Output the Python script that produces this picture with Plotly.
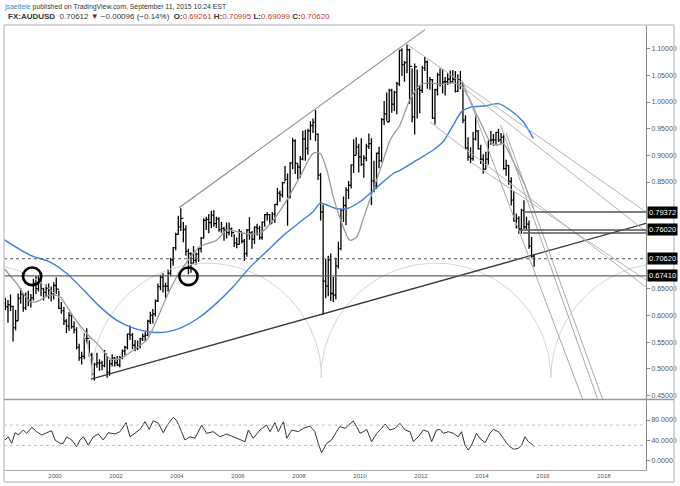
import numpy as np
import plotly.graph_objects as go
from plotly.subplots import make_subplots

# ---------------- data ----------------
FIRST_YEAR = 1998
FIRST_MONTH = 4  # May (0-based month index)
open_first = 0.623

high = [
    .633, .629, .639, .618, .610, .641, .651, .641,
    .643, .646, .640, .668, .674, .675, .668, .652, .658, .660, .654, .662,
    .671, .646, .625, .616, .593, .606, .604, .589, .578, .547, .532, .566,
    .576, .553, .530, .511, .530, .518, .515, .535, .524, .517, .527, .522,
    .524, .524, .536, .543, .566, .581, .567, .554, .553, .558, .566, .569,
    .592, .607, .612, .630, .660, .676, .679, .661, .687, .708, .728, .755,
    .787, .801, .775, .769, .725, .718, .730, .718, .727, .747, .782, .785,
    .790, .796, .797, .785, .784, .775, .766, .774, .774, .765, .752, .746,
    .762, .756, .743, .762, .784, .758, .767, .772, .768, .776, .790, .794,
    .790, .794, .809, .839, .834, .850, .880, .866, .887, .933, .930, .885,
    .899, .946, .948, .950, .964, .969, .985, .941, .867, .807, .706, .712,
    .716, .672, .708, .738, .800, .823, .840, .852, .883, .930, .934, .922,
    .932, .900, .922, .941, .932, .890, .905, .916, .970, 1.002, 1.018, 1.025,
    1.025, 1.021, 1.038, 1.098, 1.101, 1.077, 1.108, 1.100, 1.063, 1.072, 1.061, 1.031,
    1.068, 1.085, 1.078, 1.047, 1.043, 1.025, 1.055, 1.063, 1.062, 1.047, 1.054, 1.059,
    1.060, 1.058, 1.052, 1.058, 1.036, .975, .934, .915, .944, .976, .947, .920,
    .902, .907, .928, .946, .940, .944, .950, .942, .939, .892, .882, .859,
    .833, .791, .786, .800, .816, .785, .778, .747, .715,
]
low = [
    .610, .586, .608, .551, .572, .590, .622, .607,
    .610, .617, .615, .628, .640, .645, .636, .628, .636, .631, .626, .630,
    .640, .612, .603, .582, .567, .571, .575, .566, .536, .515, .508, .518,
    .546, .522, .487, .478, .502, .496, .497, .503, .483, .487, .504, .504,
    .505, .503, .518, .525, .536, .554, .537, .533, .535, .538, .552, .552,
    .561, .584, .585, .598, .625, .647, .643, .633, .645, .675, .693, .722,
    .751, .758, .737, .712, .677, .680, .696, .695, .700, .718, .744, .760,
    .754, .764, .766, .764, .757, .755, .740, .744, .750, .747, .728, .726,
    .733, .735, .702, .710, .742, .725, .734, .750, .742, .742, .766, .778,
    .770, .774, .773, .806, .813, .821, .851, .768, .819, .874, .865, .855,
    .858, .891, .890, .901, .929, .942, .927, .854, .778, .601, .632, .636,
    .627, .625, .630, .688, .722, .775, .769, .818, .838, .867, .900, .868,
    .880, .858, .889, .912, .807, .831, .837, .876, .887, .957, .965, .962,
    .980, .983, .977, 1.030, 1.049, 1.038, 1.054, .997, .962, .939, .969, .979,
    1.017, 1.058, 1.025, 1.023, .968, .958, 1.012, 1.029, 1.016, 1.012, 1.032, 1.034,
    1.036, 1.018, 1.019, 1.024, .960, .911, .890, .885, .890, .928, .911, .884,
    .866, .874, .883, .920, .918, .920, .925, .921, .873, .862, .845, .806,
    .776, .763, .753, .753, .762, .761, .725, .708, .691,
]
close = [
    .616, .620, .617, .577, .590, .632, .640, .614,
    .632, .628, .633, .660, .650, .668, .650, .643, .651, .648, .640, .656,
    .649, .613, .609, .589, .580, .600, .579, .573, .540, .521, .523, .557,
    .557, .526, .490, .508, .511, .511, .506, .528, .493, .509, .520, .511,
    .507, .521, .533, .540, .565, .563, .544, .538, .542, .556, .561, .563,
    .589, .600, .603, .627, .654, .672, .655, .655, .679, .704, .727, .752,
    .766, .782, .761, .720, .716, .698, .703, .715, .725, .745, .778, .780,
    .774, .788, .772, .781, .761, .763, .760, .755, .762, .755, .736, .733,
    .757, .739, .716, .760, .755, .743, .765, .763, .746, .775, .789, .789,
    .772, .790, .808, .829, .826, .849, .855, .822, .886, .927, .885, .878,
    .893, .931, .913, .946, .956, .962, .940, .863, .794, .664, .655, .704,
    .641, .638, .693, .725, .798, .806, .835, .844, .882, .900, .916, .897,
    .883, .895, .917, .922, .852, .843, .904, .890, .967, .978, .963, 1.022,
    .996, 1.018, 1.034, 1.097, 1.070, 1.074, 1.098, 1.067, .972, 1.066, 1.025, 1.022,
    1.064, 1.075, 1.035, 1.042, .970, 1.023, 1.051, 1.033, 1.038, 1.038, 1.043, 1.038,
    1.043, 1.020, 1.042, 1.036, .966, .914, .897, .894, .931, .946, .912, .893,
    .874, .893, .927, .929, .929, .943, .929, .934, .875, .881, .851, .816,
    .777, .782, .762, .797, .766, .771, .730, .711, .706,
]

gray_ma_year = [1998.33, 1998.74, 1999.18, 1999.40, 1999.84, 2000.16, 2000.60, 2001.04, 2001.48,
                2001.80, 2002.13, 2002.57, 2003.01, 2003.33, 2003.66, 2003.99, 2004.32, 2004.75,
                2005.30, 2005.63, 2006.17, 2006.72, 2007.16, 2007.60, 2008.03, 2008.47, 2008.69,
                2008.91, 2009.12, 2009.45, 2009.67, 2009.89, 2010.10, 2010.40, 2010.70, 2011.00,
                2011.31, 2011.64, 2011.97, 2012.30, 2012.65, 2013.00, 2013.28, 2013.55, 2013.80,
                2014.05, 2014.26, 2014.48, 2014.70, 2015.03, 2015.36, 2015.50, 2015.69]
gray_ma = [.688, .660, .626, .626, .638, .635, .597, .566, .541,
           .519, .519, .535, .554, .591, .635, .672, .700, .729,
           .741, .760, .754, .754, .779, .816, .860, .904, .904,
           .873, .823, .766, .741, .747, .780, .830, .880, .930,
           .957, 1.005, 1.032, 1.036, 1.033, 1.036, 1.032, 1.010, .980,
           .950, .926, .919, .922, .888, .850, .830, .800]

blue_ma_year = [1998.33, 1999.18, 1999.84, 2000.38, 2000.93, 2001.48, 2002.02, 2002.57, 2003.11,
                2003.66, 2004.21, 2004.75, 2005.30, 2005.85, 2006.39, 2006.94, 2007.49, 2008.03,
                2008.47, 2008.69, 2009.24, 2009.56, 2010.00, 2010.55, 2011.09, 2011.31, 2011.86,
                2012.40, 2012.73, 2013.06, 2013.33, 2013.61, 2014.15, 2014.53, 2014.92, 2015.35,
                2015.68]
blue_ma = [.742, .713, .700, .679, .648, .616, .591, .576, .569,
           .569, .579, .597, .623, .654, .690, .720, .750, .775,
           .795, .810, .800, .800, .813, .840, .866, .872, .891,
           .910, .926, .957, .982, .990, .993, .997, .985, .963,
           .932]

rsi_year = [1998.36, 1998.47, 1998.58, 1998.69, 1998.80, 1998.96, 1999.07, 1999.24, 1999.40, 1999.56,
            1999.73, 1999.89, 2000.00, 2000.17, 2000.27, 2000.38, 2000.55, 2000.71, 2000.82, 2000.93,
            2001.09, 2001.26, 2001.42, 2001.58, 2001.75, 2001.97, 2002.13, 2002.33, 2002.46, 2002.62,
            2002.79, 2002.95, 2003.09, 2003.22, 2003.39, 2003.55, 2003.72, 2003.88, 2003.99, 2004.15,
            2004.26, 2004.43, 2004.59, 2004.81, 2004.97, 2005.19, 2005.41, 2005.63, 2005.85, 2006.07,
            2006.23, 2006.34, 2006.50, 2006.72, 2006.94, 2007.05, 2007.21, 2007.32, 2007.49, 2007.60,
            2007.76, 2007.98, 2008.14, 2008.36, 2008.52, 2008.63, 2008.74, 2008.91, 2009.07, 2009.23,
            2009.34, 2009.51, 2009.62, 2009.78, 2009.89, 2010.00, 2010.11, 2010.22, 2010.38, 2010.55,
            2010.71, 2010.82, 2010.98, 2011.15, 2011.31, 2011.48, 2011.64, 2011.75, 2011.91, 2012.08,
            2012.24, 2012.35, 2012.51, 2012.62, 2012.73, 2012.90, 2013.06, 2013.22, 2013.33, 2013.44,
            2013.55, 2013.66, 2013.82, 2013.93, 2014.10, 2014.26, 2014.37, 2014.54, 2014.70, 2014.81,
            2014.92, 2015.03, 2015.19, 2015.30, 2015.41, 2015.52, 2015.63, 2015.72]
rsi = [40.7, 47, 34, 55, 50.5, 60.3, 53.8, 65.6, 57, 50.5,
       55, 59, 40.7, 34, 34, 47, 40.7, 27.6, 40.7, 47,
       30.9, 47, 52.5, 40.7, 55, 52.5, 57, 74.7, 47, 53.8,
       61.6, 76.7, 61.6, 78.7, 73.4, 55, 73.4, 85.2, 78.7, 57,
       40.7, 47, 44, 70.2, 53.8, 57, 47, 52.5, 47, 40.7,
       37.4, 60.3, 44, 60.3, 70.2, 57, 74.7, 57, 76.7, 44,
       60.3, 57, 63.6, 68.2, 57, 34, 15.8, 34, 40.7, 57,
       66.9, 63.6, 70.2, 78, 66.9, 53.8, 57, 61.6, 37.4, 53.8,
       63.6, 72.1, 60.3, 63.6, 73.4, 60.3, 57, 37.4, 47, 60.3,
       57, 37.4, 60.3, 61.6, 53.8, 57, 53.8, 47, 57, 30.9,
       21, 30.9, 53.8, 44, 35.4, 53.8, 61.6, 57, 44, 34,
       27.6, 22.4, 24.3, 30.9, 47, 37.4, 32.8, 27.6]

year_ticks = [2000, 2002, 2004, 2006, 2008, 2010, 2012, 2014, 2016, 2018]
price_ticks = [0.45, 0.50, 0.55, 0.60, 0.65, 0.85, 0.90, 0.95, 1.00, 1.05, 1.10]
rsi_ticks = [0, 40, 80]
rsi_levels = [70, 30]

# drawings (year, price)
trend_x0 = [2004.066, 2001.180, 2011.574, 2013.279, 2012.295, 2013.672, 2013.344, 2014.607, 2014.787]
trend_y0 = [0.8019, 0.4807, 1.1069, 1.0319, 0.9626, 0.8857, 1.0413, 0.9569, 0.9419]
trend_x1 = [2012.131, 2019.40, 2019.377, 2019.377, 2019.377, 2019.377, 2017.311, 2017.803, 2017.967]
trend_y1 = [1.1358, 0.7730, 0.7938, 0.7569, 0.6532, 0.6663, 0.4411, 0.4411, 0.4411]
trend_color = ['#8a8a8a', '#3a3a3a', '#b4b4b4', '#b4b4b4', '#b4b4b4', '#b4b4b4', '#a8a8a8', '#a8a8a8', '#a8a8a8']
trend_width = [1.1, 1.3, 1, 1, 1, 1, 1, 1, 1]

hline_price = [0.79372, 0.76020, 0.7544]
hline_start = [2015.41, 2015.25, 2015.34]
last_price = 0.70620
support_price = 0.67410
label_prices = [0.79372, 0.76020, 0.70620, 0.67410]

circle_year = [1999.25, 2004.375]
circle_price = [0.6733, 0.6733]

arc_starts = [1993.68, 2001.21, 2008.72, 2016.26]
arc_span = 7.53
arc_base = 0.4826
arc_height = 0.2153

X_RANGE = [1998.328, 2019.377]
Y_RANGE = [0.4423, 1.1444]
RSI_RANGE = [-18.3, 120.3]

# ---------------- figure ----------------
bar_x = [FIRST_YEAR + (FIRST_MONTH + i + 0.5) / 12 for i in range(len(close))]
opens = [open_first] + close[:-1]

fig = make_subplots(rows=2, cols=1, shared_xaxes=True, vertical_spacing=0,
                    row_heights=[0.8416, 0.1584])

# arcs
ax, ay = [], []
th = np.linspace(np.pi, 0, 90)
for s in arc_starts:
    cx = s + arc_span / 2
    ax += list(cx + arc_span / 2 * np.cos(th)) + [None]
    ay += list(arc_base + arc_height * np.sin(th)) + [None]
fig.add_trace(go.Scatter(x=ax, y=ay, mode='lines', line=dict(color='#d4d4d4', width=1),
                         hoverinfo='skip', showlegend=False), row=1, col=1)

fig.add_trace(go.Scatter(x=blue_ma_year, y=blue_ma, mode='lines',
                         line=dict(color='#3d7fe0', width=1.4, shape='spline', smoothing=0.7),
                         hoverinfo='skip', showlegend=False), row=1, col=1)
fig.add_trace(go.Scatter(x=gray_ma_year, y=gray_ma, mode='lines',
                         line=dict(color='#9a9a9a', width=1.3, shape='spline', smoothing=0.8),
                         hoverinfo='skip', showlegend=False), row=1, col=1)

fig.add_trace(go.Ohlc(x=bar_x, open=opens, high=high, low=low, close=close,
                      increasing=dict(line=dict(color='black', width=1.3)),
                      decreasing=dict(line=dict(color='black', width=1.3)),
                      tickwidth=0.5, hoverinfo='skip', showlegend=False), row=1, col=1)

fig.add_trace(go.Scatter(x=rsi_year, y=rsi, mode='lines', line=dict(color='#333', width=1),
                         hoverinfo='skip', showlegend=False), row=2, col=1)

shapes = []
for lv in rsi_levels:
    shapes.append(dict(type='line', xref='x2', yref='y2', x0=X_RANGE[0], x1=X_RANGE[1], y0=lv, y1=lv,
                       line=dict(color='#c0c0c0', width=1, dash='dot')))
for i in range(len(trend_x0)):
    shapes.append(dict(type='line', xref='x', yref='y', x0=trend_x0[i], y0=trend_y0[i], x1=trend_x1[i], y1=trend_y1[i],
                       line=dict(color=trend_color[i], width=trend_width[i])))
for p, s in zip(hline_price, hline_start):
    shapes.append(dict(type='line', xref='x', yref='y', x0=s, x1=X_RANGE[1], y0=p, y1=p,
                       line=dict(color='#555', width=1.4)))
shapes.append(dict(type='line', xref='x', yref='y', x0=X_RANGE[0], x1=X_RANGE[1], y0=last_price, y1=last_price,
                   line=dict(color='#555', width=1, dash='dot')))
shapes.append(dict(type='line', xref='x', yref='y', x0=X_RANGE[0], x1=X_RANGE[1], y0=support_price, y1=support_price,
                   line=dict(color='#666', width=1.4)))
rx, ry = 0.30, 0.0165
for cx, cy in zip(circle_year, circle_price):
    shapes.append(dict(type='circle', xref='x', yref='y', x0=cx - rx, x1=cx + rx, y0=cy - ry, y1=cy + ry,
                       line=dict(color='black', width=2.6)))

# frame (paper)
R = 1.0436
B = -0.027
shapes += [
    dict(type='line', xref='paper', yref='paper', x0=0, x1=0, y0=B, y1=1, line=dict(color='#c8c8c8', width=1.5)),
    dict(type='line', xref='paper', yref='paper', x0=0, x1=R, y0=1, y1=1, line=dict(color='#c8c8c8', width=1.5)),
    dict(type='line', xref='paper', yref='paper', x0=0, x1=R, y0=B, y1=B, line=dict(color='#c8c8c8', width=1.5)),
    dict(type='line', xref='paper', yref='paper', x0=R, x1=R, y0=B, y1=1, line=dict(color='#c8c8c8', width=1.5)),
    dict(type='line', xref='paper', yref='paper', x0=0, x1=R, y0=0.1584, y1=0.1584, line=dict(color='#999', width=1.5)),
]

annotations = []
for p in label_prices:
    annotations.append(dict(xref='paper', yref='y', x=1.0016, y=p, xanchor='left', yanchor='middle',
                            text='%.5f' % p, showarrow=False, bgcolor='black', borderpad=1,
                            font=dict(color='white', size=7.5, family='Liberation Sans, Arial')))
annotations.append(dict(xref='paper', yref='paper', x=-0.0031, y=1.0404, xanchor='left', yanchor='middle',
                        showarrow=False, font=dict(size=6.9, color='#333', family='Liberation Sans, Arial'),
                        text="<span style='color:#3b86c8'>jsaettele</span> published on TradingView.com, September 11, 2015 10:24 EST"))
red = '#c0392b'
annotations.append(dict(xref='paper', yref='paper', x=0.0031, y=1.0191, xanchor='left', yanchor='middle',
                        showarrow=False, font=dict(size=8, color='#333', family='Liberation Sans, Arial'),
                        text=("<b>FX:AUDUSD</b>  0.70612 <span style='color:#9b1b1b'>▼</span> −0.00096 (−0.14%)  "
                              f"<b>O:</b><span style='color:{red}'>0.69261</span> "
                              f"<b>H:</b><span style='color:{red}'>0.70995</span> "
                              f"<b>L:</b><span style='color:{red}'>0.69099</span> "
                              f"<b>C:</b><span style='color:{red}'>0.70620</span>")))

axis_font = dict(size=7, color='#555', family='Liberation Sans, Arial')
fig.update_layout(
    width=680, height=486, margin=dict(l=4, r=34, t=25, b=16),
    paper_bgcolor='white', plot_bgcolor='white', showlegend=False,
    shapes=shapes, annotations=annotations,
    xaxis=dict(range=X_RANGE, showgrid=False, zeroline=False, showticklabels=False,
               rangeslider=dict(visible=False), showline=False),
    xaxis2=dict(range=X_RANGE, showgrid=False, zeroline=False, tickvals=year_ticks,
                ticktext=[str(t) for t in year_ticks], tickfont=dict(size=6, color='#555', family='Liberation Sans, Arial'),
                ticks='', showline=True, linecolor='#aaa', linewidth=1, rangeslider=dict(visible=False)),
    yaxis=dict(domain=[0.1584, 1], range=Y_RANGE, side='right', showgrid=False, zeroline=False,
               tickvals=price_ticks, ticktext=['%.5f' % t for t in price_ticks], tickfont=axis_font,
               ticks='outside', ticklen=3, tickcolor='#888', showline=True, linecolor='#888', linewidth=1),
    yaxis2=dict(domain=[0, 0.1584], range=RSI_RANGE, side='right', showgrid=False, zeroline=False,
                tickvals=rsi_ticks, ticktext=['%.4f' % t for t in rsi_ticks], tickfont=axis_font,
                ticks='outside', ticklen=3, tickcolor='#888', showline=True, linecolor='#888', linewidth=1),
)

fig.write_html("out.html")
